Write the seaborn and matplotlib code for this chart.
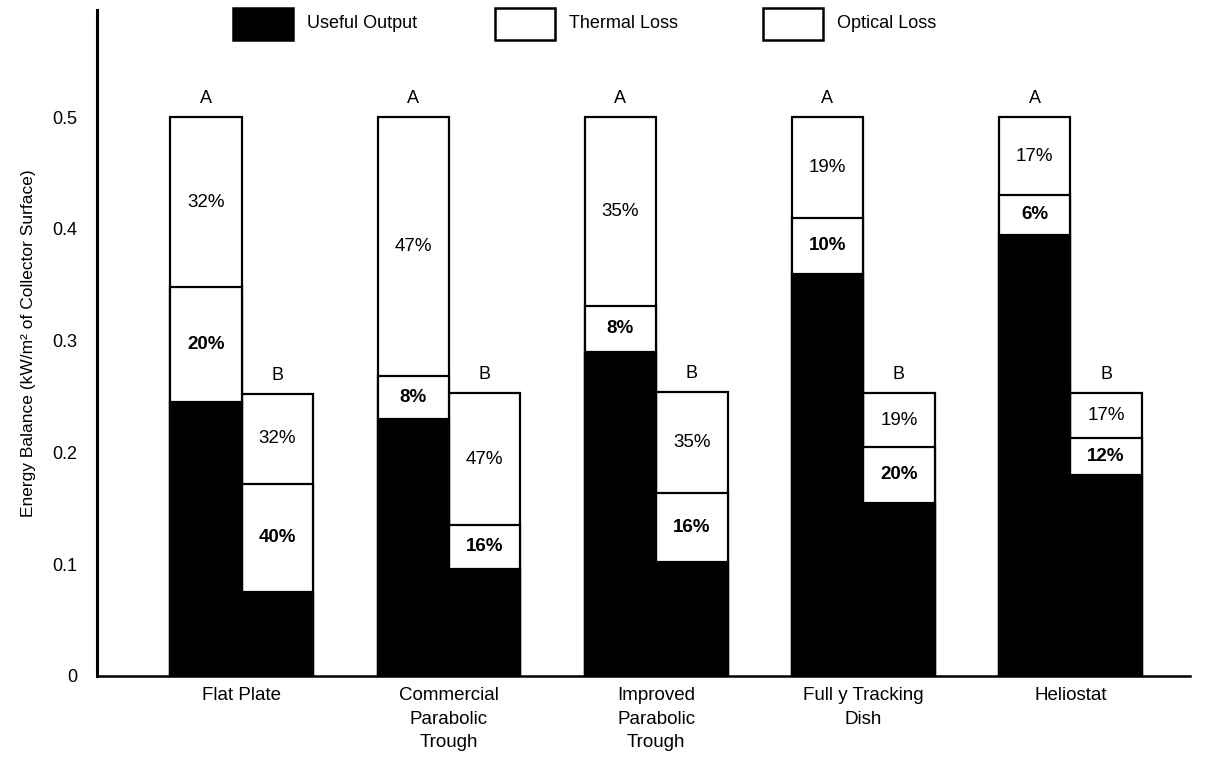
import matplotlib
matplotlib.use("Agg")
import matplotlib.pyplot as plt
from matplotlib.patches import Rectangle
import seaborn as sns
import pandas as pd

# collector types and the two insolation cases
collectors = ["Flat Plate", "Commercial\nParabolic\nTrough", "Improved\nParabolic\nTrough",
              "Full y Tracking\nDish", "Heliostat"]
cases = ["A", "B"]

# energy balance in kW/m2
useful_A = [0.245, 0.230, 0.290, 0.360, 0.395]
thermal_A = [0.103, 0.038, 0.041, 0.050, 0.035]
optical_A = [0.152, 0.232, 0.169, 0.090, 0.070]

useful_B = [0.075, 0.096, 0.102, 0.155, 0.180]
thermal_B = [0.097, 0.039, 0.062, 0.050, 0.033]
optical_B = [0.080, 0.118, 0.090, 0.048, 0.040]

# percentage labels printed in the segments
thermal_pct_A = ["20%", "8%", "8%", "10%", "6%"]
optical_pct_A = ["32%", "47%", "35%", "19%", "17%"]
thermal_pct_B = ["40%", "16%", "16%", "20%", "12%"]
optical_pct_B = ["32%", "47%", "35%", "19%", "17%"]

rows = []
for i, c in enumerate(collectors):
    for case, u, t, o in [("A", useful_A[i], thermal_A[i], optical_A[i]),
                          ("B", useful_B[i], thermal_B[i], optical_B[i])]:
        rows.append({"Collector": c, "Case": case, "Useful": u,
                     "Mid": u + t, "Total": u + t + o})
df = pd.DataFrame(rows)

sns.set_style("white")
plt.rcParams["font.family"] = ["Liberation Sans", "DejaVu Sans"]
plt.rcParams["text.color"] = "black"
plt.rcParams["axes.labelcolor"] = "black"
plt.rcParams["xtick.color"] = "black"
plt.rcParams["ytick.color"] = "black"

fig = plt.figure(figsize=(12.11, 7.62), dpi=100)
ax = fig.add_axes([0.080, 0.113, 0.903, 0.874])

pal = {"A": "white", "B": "white"}
common = dict(data=df, x="Collector", hue="Case", hue_order=cases, order=collectors,
              dodge=True, width=0.69, edgecolor="black", linewidth=1.6,
              legend=False, ax=ax, saturation=1)
sns.barplot(y="Total", palette=pal, **common)
sns.barplot(y="Mid", palette=pal, **common)
sns.barplot(y="Useful", palette={"A": "black", "B": "black"}, **common)

# bar centres from the last (useful) layer
top_containers = ax.containers[-2:]
labels = {"A": (useful_A, thermal_A, optical_A, thermal_pct_A, optical_pct_A),
          "B": (useful_B, thermal_B, optical_B, thermal_pct_B, optical_pct_B)}
for case, cont in zip(cases, top_containers):
    u, t, o, tp, op = labels[case]
    for i, bar in enumerate(cont.patches):
        xc = bar.get_x() + bar.get_width() / 2
        ax.text(xc, u[i] + t[i] / 2, tp[i], ha="center", va="center",
                fontsize=13.5, fontweight="bold")
        ax.text(xc, u[i] + t[i] + o[i] / 2, op[i], ha="center", va="center",
                fontsize=13.5)
        ax.text(xc, u[i] + t[i] + o[i] + 0.009, case, ha="center", va="bottom",
                fontsize=13)

ax.set_xlim(-0.70, 4.58)
ax.set_ylim(0, 0.596)
ax.set_yticks([0, 0.1, 0.2, 0.3, 0.4, 0.5])
ax.set_yticklabels(["0", "0.1", "0.2", "0.3", "0.4", "0.5"], fontsize=13)
ax.tick_params(axis="y", length=0, pad=14)
ax.tick_params(axis="x", length=0, pad=8)
ax.set_xticks(range(len(collectors)))
ax.set_xticklabels(collectors, fontsize=13.5, linespacing=1.5, va="top")
ax.set_xlabel("")
ax.set_ylabel("Energy Balance (kW/m² of Collector Surface)", fontsize=12.5, labelpad=12)

for side in ["top", "right"]:
    ax.spines[side].set_visible(False)
ax.spines["left"].set_linewidth(2.2)
ax.spines["bottom"].set_linewidth(1.8)
ax.spines["left"].set_color("black")
ax.spines["bottom"].set_color("black")

# legend along the top
W, H = 1211, 762
legend_items = [("Useful Output", "black", 233), ("Thermal Loss", "white", 495),
                ("Optical Loss", "white", 763)]
for name, color, x0 in legend_items:
    fig.patches.append(Rectangle((x0 / W, 1 - 40 / H), 60 / W, 32 / H,
                                 transform=fig.transFigure, facecolor=color,
                                 edgecolor="black", linewidth=1.8))
    fig.text((x0 + 74) / W, 1 - 24 / H, name, ha="left", va="center", fontsize=13)

plt.savefig("out.png", dpi=100)
plt.close()
